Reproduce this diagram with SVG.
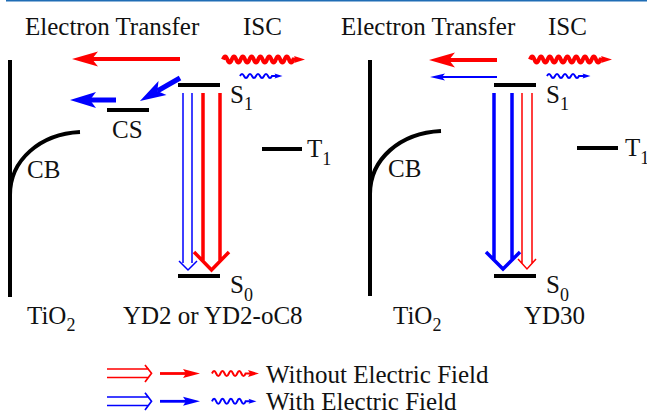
<svg xmlns="http://www.w3.org/2000/svg" width="647" height="412" viewBox="0 0 647 412" font-family="'Liberation Serif', Tinos, 'DejaVu Serif', serif">
<style>
text{font-family:"Liberation Serif",Tinos,"DejaVu Serif",serif;font-size:25px;fill:#111}
.sub{font-size:18px}
.lvl{stroke:#000;stroke-width:4;fill:none}
.tio{stroke:#000;stroke-width:4;fill:none}
.r{stroke:#ff0000;fill:none}
.b{stroke:#0000ff;fill:none}
</style>
<defs>
<marker id="mR" markerUnits="userSpaceOnUse" viewBox="-2 -20 40 40" markerWidth="40" markerHeight="40" refX="6" refY="0" orient="auto"><path d="M0,-7.5 L26,0 L0,7.5 L6,0 Z" fill="#ff0000"/></marker>
<marker id="mB" markerUnits="userSpaceOnUse" viewBox="-2 -20 40 40" markerWidth="40" markerHeight="40" refX="6" refY="0" orient="auto"><path d="M0,-8 L26,0 L0,8 L6,0 Z" fill="#0000ff"/></marker>
<marker id="mBt" markerUnits="userSpaceOnUse" viewBox="-2 -20 40 40" markerWidth="40" markerHeight="40" refX="3" refY="0" orient="auto"><path d="M0,-3.5 L15,0 L0,3.5 L3,0 Z" fill="#0000ff"/></marker>
<marker id="mRw" markerUnits="userSpaceOnUse" viewBox="-2 -20 40 40" markerWidth="40" markerHeight="40" refX="2" refY="0" orient="auto"><path d="M0,-3.5 L11,0 L0,3.5 L2,0 Z" fill="#ff0000"/></marker>
<marker id="mBw" markerUnits="userSpaceOnUse" viewBox="-2 -20 40 40" markerWidth="40" markerHeight="40" refX="1.5" refY="0" orient="auto"><path d="M0,-2.5 L8,0 L0,2.5 L1.5,0 Z" fill="#0000ff"/></marker>
<marker id="mRs" markerUnits="userSpaceOnUse" viewBox="-2 -20 40 40" markerWidth="40" markerHeight="40" refX="3" refY="0" orient="auto"><path d="M0,-4.5 L17,0 L0,4.5 L3,0 Z" fill="#ff0000"/></marker>
<marker id="mBs" markerUnits="userSpaceOnUse" viewBox="-2 -20 40 40" markerWidth="40" markerHeight="40" refX="3" refY="0" orient="auto"><path d="M0,-4.5 L17,0 L0,4.5 L3,0 Z" fill="#0000ff"/></marker>
</defs>
<rect x="6" y="0" width="641" height="1.5" fill="#1f6db5"/>

<g id="left-panel">
<text x="25" y="35">Electron Transfer</text>
<text x="243" y="35">ISC</text>
<g id="tio2-left"><path class="tio" d="M10,60 L10,297"/><path class="tio" d="M10,195 C10,160 40,134 80,132"/>
<text x="27" y="178">CB</text>
<text x="27" y="324">TiO<tspan class="sub" dy="7">2</tspan></text></g>
<g id="cs-left"><path class="lvl" d="M107,110 L149,110"/><text x="112" y="138">CS</text></g>
<g id="s1-left"><path class="lvl" d="M178,85 L220,85"/><text x="230" y="102.5">S<tspan class="sub" dy="7.5">1</tspan></text></g>
<g id="s0-left"><path class="lvl" d="M178,276 L220,276"/><text x="230" y="293">S<tspan class="sub" dy="7.5">0</tspan></text></g>
<g id="t1-left"><path class="lvl" d="M262,149 L302,149"/><text x="307" y="157">T<tspan class="sub" dy="7.5">1</tspan></text></g>
<text x="123" y="324">YD2 or YD2-oC8</text>
</g>

<g id="right-panel">
<text x="341" y="35">Electron Transfer</text>
<text x="548" y="35">ISC</text>
<g id="tio2-right"><path class="tio" d="M370,60 L370,296"/><path class="tio" d="M370,194 C370,159 400,133 441,131"/>
<text x="388" y="177">CB</text>
<text x="393" y="324">TiO<tspan class="sub" dy="7">2</tspan></text></g>
<g id="s1-right"><path class="lvl" d="M494,85 L536,85"/><text x="546" y="102.5">S<tspan class="sub" dy="7.5">1</tspan></text></g>
<g id="s0-right"><path class="lvl" d="M494,276 L536,276"/><text x="546" y="293">S<tspan class="sub" dy="7.5">0</tspan></text></g>
<g id="t1-right"><path class="lvl" d="M577,148 L618,148"/><text x="625" y="156">T<tspan class="sub" dy="7.5">1</tspan></text></g>
<text x="524" y="324">YD30</text>
</g>

<g id="connectors">
<path class="r" stroke-width="4" d="M180,59 L92,59" marker-end="url(#mR)"/>
<path class="r" stroke-width="4" d="M223,59.5 q2.2,-6 4.4,0 t4.4,0 t4.4,0 t4.4,0 t4.4,0 t4.4,0 t4.4,0 t4.4,0 t4.4,0 t4.4,0 t4.4,0 t4.4,0 t4.4,0 t4.4,0 t4.4,0 t4.4,0 L296,59.5" marker-end="url(#mRw)"/>
<path class="b" stroke-width="2" d="M240,76 q2,-4 4,0 t4,0 t4,0 t4,0 t4,0 t4,0 t4,0 t4,0 L276,76" marker-end="url(#mBw)"/>
<path class="b" stroke-width="5" d="M180,78 L157.3,91" marker-end="url(#mB)"/>
<path class="b" stroke-width="5" d="M116,100 L90,100" marker-end="url(#mB)"/>
<path class="b" stroke-width="1.5" d="M183,93 L183,263 M192,93 L192,263 M179,261 L188,270 L197,261"/>
<path class="r" stroke-width="3.5" d="M203,93 L203,261 M220,93 L220,261 M194,252 L211.5,270 L229,252"/>
<path class="r" stroke-width="4" d="M497,60 L449,60" marker-end="url(#mR)"/>
<path class="b" stroke-width="2" d="M497,77 L442,77" marker-end="url(#mBt)"/>
<path class="r" stroke-width="4" d="M530,59.5 q2.2,-6 4.4,0 t4.4,0 t4.4,0 t4.4,0 t4.4,0 t4.4,0 t4.4,0 t4.4,0 t4.4,0 t4.4,0 t4.4,0 t4.4,0 t4.4,0 t4.4,0 t4.4,0 t4.4,0 L603,59.5" marker-end="url(#mRw)"/>
<path class="b" stroke-width="2" d="M547,76 q2,-4 4,0 t4,0 t4,0 t4,0 t4,0 t4,0 t4,0 t4,0 L584,76" marker-end="url(#mBw)"/>
<path class="b" stroke-width="3.5" d="M494,93 L494,261 M512,93 L512,261 M486,252 L503,269 L520,252"/>
<path class="r" stroke-width="1.5" d="M522,93 L522,264 M532,93 L532,264 M518,259 L527,269 L536,259"/>
</g>

<g id="legend">
<path class="r" stroke-width="1.7" d="M107,369 L149,369 M107,377.5 L149,377.5 M145,365 L151.5,373.3 L145,382"/>
<path class="r" stroke-width="2.8" d="M160,373.5 L186,373.5" marker-end="url(#mRs)"/>
<path class="r" stroke-width="2" d="M212,373.5 q2.1,-5 4.2,0 t4.2,0 t4.2,0 t4.2,0 t4.2,0 t4.2,0 t4.2,0 t4.2,0 L250,373.5" marker-end="url(#mRw)"/>
<text x="266" y="383">Without Electric Field</text>
<path class="b" stroke-width="1.7" d="M107,397 L149,397 M107,405.5 L149,405.5 M145,392.7 L151.5,401.3 L145,410"/>
<path class="b" stroke-width="2.8" d="M160,401.3 L186,401.3" marker-end="url(#mBs)"/>
<path class="b" stroke-width="2" d="M212,401.3 q2.1,-5 4.2,0 t4.2,0 t4.2,0 t4.2,0 t4.2,0 t4.2,0 t4.2,0 t4.2,0 L250,401.3" marker-end="url(#mBw)"/>
<text x="266" y="410">With Electric Field</text>
</g>
</svg>
